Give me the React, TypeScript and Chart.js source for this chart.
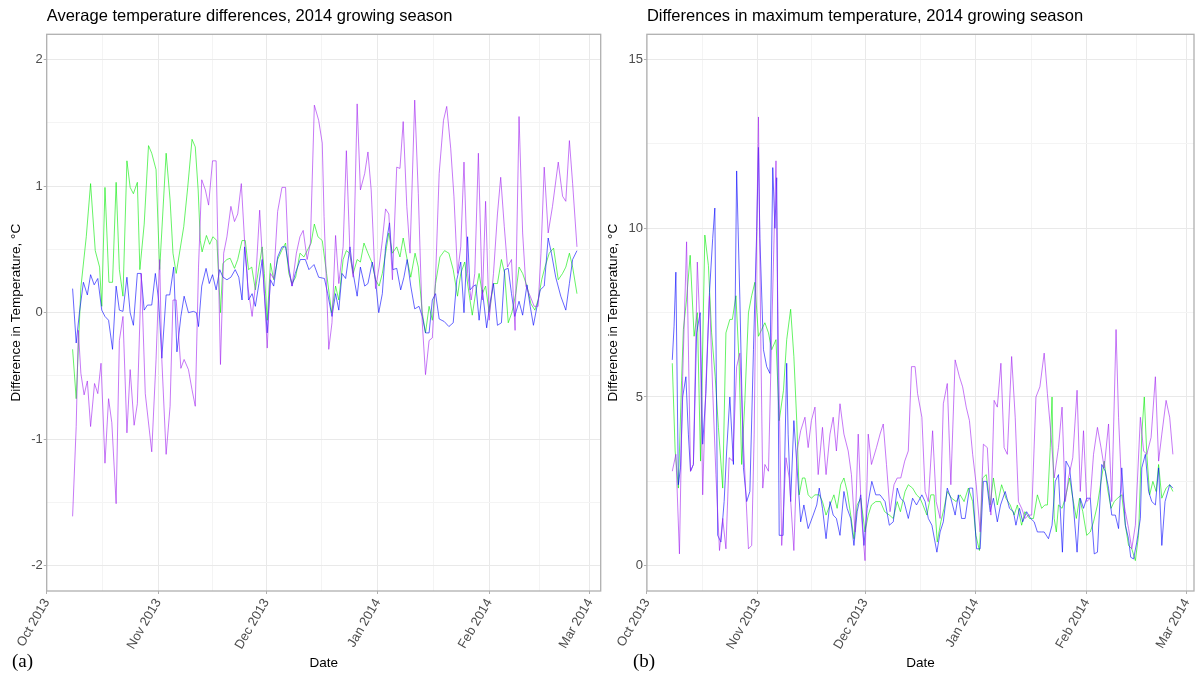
import React, { useEffect, useRef } from "react";
import { Chart, registerables } from "chart.js";

Chart.register(...registerables);

const FONT = "'Liberation Sans', Arial, Helvetica, sans-serif";

// x axis: days since 1 Oct 2013
const monthTickDays = [0, 31, 61, 92, 123, 151];
const monthTickLabels = ["Oct 2013", "Nov 2013", "Dec 2013", "Jan 2014", "Feb 2014", "Mar 2014"];
const minorTickDays = [15.5, 46, 76.5, 107.5, 137];

const avgMajorY = [-2, -1, 0, 1, 2];
const avgMinorY = [-1.5, -0.5, 0.5, 1.5];
const maxMajorY = [0, 5, 10, 15];
const maxMinorY = [2.5, 7.5, 12.5];

// ---------- Panel (a): average temperature differences ----------
const avgGreenDays = [7.2, 8.2, 9.5, 11, 12.2, 13.5, 14.7, 15.3, 16.2, 17.3, 18.3, 19.3, 20.2, 21.2, 22.3, 23.2, 24.1, 25.2, 25.9, 27.1, 28.3, 29.2, 30.4, 31.4, 33.2, 34.3, 35.1, 36, 38.1, 39.2, 40.4, 41.3, 42.1, 42.7, 43.2, 44.4, 45.3, 46.2, 47.3, 48.3, 49, 50.1, 51, 52.2, 53.1, 54.3, 55.2, 56.1, 57, 58, 59, 59.9, 60.5, 61.3, 62.2, 63.1, 64.2, 65.3, 66.4, 67.3, 68.2, 69.2, 70.4, 71.5, 72.4, 73.5, 74.4, 75.4, 76.6, 77.8, 79.2, 80.3, 81.2, 82.4, 83.3, 84.2, 85.2, 86.3, 87.2, 88.2, 89.3, 90.5, 91.4, 92.4, 93.3, 94.2, 95.1, 96.1, 97.3, 98.2, 99.1, 100.2, 101.2, 102.4, 103.3, 104.4, 105.3, 106.3, 107.2, 108.1, 109.3, 110.6, 111.8, 113, 114.2, 115.1, 116.2, 117.1, 118.3, 119.2, 120.2, 121.1, 122, 123, 124.2, 125.3, 126.4, 127.3, 128.3, 129.3, 130.4, 131.3, 132.3, 133.5, 134.6, 135.7, 136.6, 137.6, 138.5, 139.7, 140.9, 142.2, 143.4, 144.3, 145.3, 146.2, 147.4];
const avgGreen = [-0.29, -0.68, 0.2, 0.6, 1.02, 0.49, 0.36, 0.05, 0.99, 0.24, 0.24, 1.03, 0.34, 0.13, 1.2, 0.99, 0.94, 1.03, 0.34, 0.7, 1.32, 1.26, 1.13, 0.34, 1.26, 0.89, 0.47, 0.31, 0.68, 0.99, 1.37, 1.31, 0.97, 0.57, 0.48, 0.61, 0.54, 0.6, 0.57, 0.0, 0.39, 0.42, 0.43, 0.35, 0.42, 0.57, 0.57, 0.34, 0.36, 0.18, 0.36, 0.52, 0.31, -0.06, 0.39, 0.26, 0.42, 0.49, 0.55, 0.31, 0.23, 0.28, 0.47, 0.44, 0.49, 0.55, 0.7, 0.6, 0.57, 0.31, 0.0, 0.21, 0.1, 0.42, 0.49, 0.47, 0.31, 0.42, 0.4, 0.55, 0.47, 0.39, 0.26, 0.21, 0.31, 0.47, 0.63, 0.47, 0.52, 0.44, 0.59, 0.42, 0.28, 0.47, 0.36, 0.0, -0.16, 0.05, -0.06, 0.23, 0.44, 0.49, 0.47, 0.34, 0.13, 0.31, 0.4, 0.21, -0.02, 0.15, 0.31, 0.15, 0.21, 0.0, 0.23, 0.23, 0.42, 0.31, -0.08, 0.0, 0.15, 0.36, 0.31, 0.21, 0.07, 0.02, 0.1, 0.26, 0.36, 0.47, 0.51, 0.26, 0.31, 0.36, 0.47, 0.36, 0.15];

const avgBlueDays = [7.2, 8.2, 9.1, 10.2, 11.3, 12.2, 13.2, 14.2, 15.3, 16.2, 17.2, 18.3, 19.3, 20.2, 21.2, 22.3, 23.2, 24.1, 25.2, 26.2, 27.1, 28, 29.2, 30.2, 31.1, 32, 33.2, 34.2, 35.3, 36.2, 37.3, 38.2, 39.4, 40.8, 41.6, 42.2, 43.1, 44.3, 45.2, 46.1, 47.1, 48.1, 49, 50.1, 51.2, 52.4, 53.4, 54.3, 55, 55.7, 56.1, 57.1, 58, 59, 59.9, 60.5, 61.3, 62.2, 63.1, 64.2, 65.4, 66.4, 67.3, 68.2, 69.1, 70.5, 71.9, 72.9, 74.3, 75.6, 77.2, 78.1, 79.3, 80.3, 81.2, 82.1, 83.1, 84.3, 85.2, 86.3, 87.2, 88.4, 89.3, 90.5, 91.4, 92.3, 93.3, 94.2, 95.3, 96.2, 97.3, 98.4, 99.3, 100.2, 101.2, 102.3, 103.5, 104.4, 105.3, 106.3, 107.2, 108.1, 109.1, 110.5, 111.8, 113, 114, 115.1, 116, 117, 117.7, 118.6, 119.3, 120.2, 121.1, 122.3, 123.2, 124.2, 125.3, 126.4, 127.3, 128.3, 129.2, 130.1, 131.3, 132.3, 133.5, 134.4, 135.3, 136.3, 137.2, 138.3, 139.4, 140.3, 141.5, 142.9, 144.3, 145.3, 146.2, 147.4];
const avgBlue = [0.19, -0.24, 0.0, 0.24, 0.14, 0.3, 0.22, 0.27, 0.02, -0.03, -0.06, -0.29, 0.21, 0.02, 0.01, 0.28, 0.0, -0.1, 0.31, 0.31, 0.02, 0.06, 0.06, 0.31, 0.1, -0.36, 0.14, 0.14, 0.36, -0.31, -0.03, 0.13, 0.0, 0.01, 0.0, -0.11, 0.21, 0.35, 0.23, 0.3, 0.18, 0.34, 0.28, 0.26, 0.28, 0.34, 0.28, 0.1, 0.52, 0.31, 0.1, 0.15, 0.05, 0.23, 0.42, 0.15, -0.16, 0.26, 0.21, 0.44, 0.52, 0.52, 0.36, 0.21, 0.31, 0.42, 0.42, 0.34, 0.38, 0.28, 0.27, 0.15, -0.03, 0.15, 0.02, 0.31, 0.27, 0.52, 0.31, 0.13, 0.36, 0.21, 0.23, 0.4, 0.26, 0.0, 0.15, 0.52, 0.71, 0.34, 0.35, 0.18, 0.28, 0.42, 0.21, 0.03, 0.05, -0.03, -0.16, -0.16, 0.1, 0.15, -0.05, -0.07, -0.11, -0.08, 0.26, 0.4, 0.0, 0.6, 0.18, 0.21, 0.22, -0.06, 0.18, -0.12, 0.07, 0.23, -0.1, -0.08, 0.34, 0.35, 0.15, -0.03, 0.09, -0.02, 0.22, 0.05, -0.1, 0.05, 0.18, 0.21, 0.59, 0.47, 0.28, 0.13, 0.02, 0.23, 0.42, 0.49];

const avgPurpleDays = [7.2, 8.2, 8.8, 9.5, 10.4, 11.3, 12.2, 13.3, 14.2, 15.1, 16.2, 17.2, 18.1, 19.3, 20.2, 21.2, 22.3, 23.2, 24.3, 25.2, 26.3, 27.4, 29.2, 30.4, 31.4, 32, 33.2, 34.3, 35.1, 36, 37.3, 38.2, 39.4, 40.4, 41.3, 42.2, 43.1, 44.1, 45, 46.1, 47.1, 48.3, 49.2, 50.1, 51.2, 52.2, 53.1, 54.1, 55, 55.9, 57.1, 58, 59.2, 60.3, 61.3, 62.2, 63.1, 64.2, 65.4, 66.4, 67.3, 68.2, 69.4, 70.4, 71.3, 72.4, 73.3, 74.4, 75.6, 76.6, 77.1, 78.4, 79.3, 80.3, 81.2, 82.4, 83.3, 84.3, 85.2, 86.3, 87.2, 88.4, 89.3, 90.2, 91.4, 92.4, 93.3, 94.2, 95.1, 96.1, 97.3, 98.2, 99.1, 100.1, 101, 102.3, 103.3, 104.4, 105.3, 106.3, 107.2, 108.1, 109.1, 110.3, 111.2, 112.3, 113.2, 114.2, 115.1, 116, 117, 118, 119, 120, 121.1, 122, 123, 124.2, 125.3, 126.2, 127.2, 128.1, 129.2, 130.2, 131.3, 132.3, 133.2, 134.4, 135.5, 136.6, 137.4, 138.3, 139.4, 140.6, 142.2, 143.4, 144.3, 145.3, 146.2, 147.4];
const avgPurple = [-1.61, -0.9, -0.14, -0.48, -0.65, -0.54, -0.9, -0.56, -0.64, -0.4, -1.19, -0.68, -0.87, -1.51, -0.22, -0.03, -0.95, -0.45, -0.89, -0.72, 0.31, -0.64, -1.1, -0.37, 0.42, -0.37, -1.12, -0.74, 0.1, 0.1, -0.44, -0.37, -0.45, -0.61, -0.74, 0.36, 1.05, 0.97, 0.85, 1.2, 1.2, -0.41, 0.47, 0.6, 0.84, 0.72, 0.78, 1.02, 0.57, 0.21, -0.03, 0.21, 0.81, 0.26, -0.28, 0.31, 0.27, 0.8, 0.99, 0.99, 0.34, 0.21, 0.47, 0.6, 0.65, 0.42, 0.55, 1.64, 1.52, 1.34, 0.76, -0.29, -0.08, 0.61, 0.23, 0.52, 1.28, 0.47, 0.28, 1.65, 0.97, 1.1, 1.27, 0.97, 0.19, 0.36, 0.57, 0.82, 0.78, 0.26, 1.15, 1.14, 1.51, 0.84, 0.47, 1.68, 0.94, -0.08, -0.49, -0.22, -0.2, 0.28, 1.1, 1.52, 1.63, 1.3, 0.92, 0.31, 0.52, 1.19, 0.31, 0.1, 0.31, 1.26, 0.1, 0.88, -0.06, 0.31, 0.78, 1.07, 0.68, 0.36, 0.42, -0.14, 1.55, 0.63, 0.21, 0.13, 0.05, 0.05, 0.47, 1.15, 0.63, 0.84, 1.19, 0.92, 0.88, 1.36, 1.02, 0.52];

// ---------- Panel (b): differences in maximum temperature ----------
const maxGreenDays = [7.1, 7.9, 8.8, 9.7, 10.2, 11.1, 12.1, 13.2, 14.1, 15, 16.2, 17.2, 18.1, 19.1, 20, 21.2, 22.1, 23.2, 23.9, 24.9, 25.8, 26.5, 27.4, 28.4, 29.3, 30.2, 31.2, 32.1, 33, 34, 34.9, 36.1, 37, 38.2, 39.1, 40.2, 41.1, 41.9, 42.6, 43.5, 44.2, 45.1, 46, 47, 48.2, 49.1, 50.1, 51.2, 52.3, 53.2, 54.2, 55.1, 56, 57, 57.9, 58.8, 59.8, 61, 61.9, 62.8, 64, 65.3, 66.5, 67.8, 68.9, 70, 70.9, 72.2, 73.1, 74.3, 75.4, 76.4, 77.2, 78.3, 79.4, 80.3, 81.2, 82.2, 83.1, 84, 85.2, 86.5, 87.6, 88.7, 89.9, 91.1, 92, 93, 93.9, 94.9, 96, 96.9, 98, 99.2, 100.4, 101.6, 102.7, 103.6, 104.8, 105.7, 107, 108.1, 109.2, 110.4, 111.3, 112, 112.8, 113.3, 113.9, 114.5, 115.1, 116.1, 117, 118.2, 119.1, 120.1, 121, 121.9, 123, 124, 124.9, 126, 127, 127.9, 128.8, 129.8, 130.7, 131.6, 132.8, 133.8, 134.7, 135.6, 136.6, 137.5, 138.4, 139.1, 139.8, 140.6, 141.5, 142.4, 143.1, 144, 145.2, 146.2, 147.1];
const maxGreen = [6.0, 3.4, 2.3, 5.5, 7.0, 7.9, 9.2, 6.8, 7.5, 3.1, 9.8, 8.9, 6.9, 5.6, 4.1, 2.3, 6.9, 7.3, 7.3, 8.0, 6.0, 3.0, 4.9, 7.5, 8.0, 8.4, 6.8, 7.0, 7.2, 6.9, 6.4, 6.7, 4.3, 5.2, 6.7, 7.6, 6.2, 4.3, 2.1, 2.6, 2.6, 2.1, 2.0, 2.1, 2.1, 1.9, 1.5, 1.8, 2.1, 1.7, 2.4, 2.6, 2.2, 1.5, 0.8, 1.8, 2.0, 1.0, 1.5, 1.8, 1.9, 1.9, 1.6, 1.5, 1.4, 1.9, 1.6, 2.2, 2.4, 2.3, 2.1, 2.0, 1.8, 1.5, 2.1, 2.1, 0.7, 1.3, 1.7, 2.2, 2.0, 1.9, 2.1, 1.9, 2.3, 1.9, 0.9, 0.45, 2.6, 2.7, 1.8, 2.6, 1.8, 2.4, 2.0, 1.8, 1.5, 1.8, 1.2, 1.6, 1.4, 1.4, 2.1, 1.7, 1.8, 1.8, 3.5, 5.0, 1.4, 1.0, 1.8, 1.7, 2.0, 2.6, 2.0, 1.4, 2.0, 1.6, 0.9, 1.0, 1.3, 1.8, 2.5, 3.1, 2.3, 1.7, 1.9, 2.0, 2.1, 1.2, 0.6, 0.5, 0.15, 0.9, 3.9, 5.0, 3.3, 2.1, 2.5, 2.2, 3.0, 2.0, 2.3, 2.4, 2.2];

const maxBlueDays = [7.1, 7.6, 8.1, 8.8, 9.4, 10, 10.9, 11.6, 12.2, 13, 13.9, 14.9, 15.6, 16.5, 17.5, 18.4, 19, 19.8, 20.7, 21.6, 22.3, 23.2, 24.2, 25.1, 26, 27, 27.9, 28.8, 29.8, 30.7, 31.2, 31.6, 32.6, 33.5, 34.4, 35.2, 35.8, 36.3, 37, 38.1, 39.1, 39.5, 40.2, 41.1, 42, 43, 43.9, 45.1, 46.5, 47.5, 48.2, 49.1, 50.1, 51.2, 52.1, 53, 54, 55.1, 56, 57, 57.9, 58.8, 59.8, 60.7, 61.6, 62.9, 64, 65.2, 66.6, 67.8, 68.9, 70, 70.9, 71.9, 73.1, 74.3, 75.4, 76.9, 77.8, 78.7, 79.7, 81.1, 82, 82.9, 84, 85, 86.2, 87.1, 88, 89, 90.2, 91.1, 92.2, 93.2, 94.1, 95, 96, 96.9, 98, 98.9, 100.2, 101.4, 102.5, 103.2, 104.2, 105.1, 106.2, 107.3, 108.3, 109.2, 110.4, 111.1, 112.3, 113.3, 114.2, 115.1, 116.2, 117.2, 118.2, 119.1, 120.3, 121.2, 122.1, 123, 124, 125.1, 126, 127.2, 128.2, 129.1, 130, 131, 131.9, 132.8, 133.8, 134.7, 135.3, 136.1, 137, 138, 138.4, 139.4, 140.3, 141.2, 142.2, 143.1, 144, 144.9, 146.2, 147.1];
const maxBlue = [6.1, 7.1, 8.7, 2.4, 2.9, 5.0, 5.6, 3.9, 2.8, 3.0, 6.9, 7.5, 3.6, 5.1, 8.1, 9.7, 10.6, 0.9, 0.7, 1.9, 3.4, 5.0, 3.0, 11.7, 7.9, 2.9, 1.9, 2.2, 6.4, 9.9, 12.4, 9.7, 6.4, 5.9, 5.7, 11.8, 10.0, 11.5, 0.9, 0.9, 6.0, 3.9, 1.9, 4.3, 2.9, 1.3, 1.8, 1.1, 1.5, 1.8, 2.3, 1.7, 0.8, 1.9, 1.5, 1.4, 0.9, 2.2, 1.7, 1.4, 0.6, 1.6, 2.1, 0.6, 1.7, 2.5, 2.1, 2.1, 1.9, 1.2, 1.3, 2.3, 2.0, 1.9, 1.4, 2.0, 1.8, 2.1, 1.9, 1.4, 1.2, 0.4, 1.0, 1.3, 2.3, 2.0, 1.5, 2.1, 1.4, 1.4, 2.3, 2.3, 0.5, 0.5, 2.5, 2.5, 1.6, 2.0, 1.3, 1.8, 2.2, 1.7, 1.6, 1.2, 1.7, 1.3, 1.6, 1.4, 1.3, 1.0, 1.0, 1.0, 0.8, 1.2, 2.5, 2.7, 0.4, 3.1, 2.9, 2.0, 0.4, 2.0, 1.7, 2.0, 2.0, 0.35, 0.4, 3.0, 2.8, 2.3, 1.5, 1.5, 1.1, 2.9, 1.2, 0.8, 0.25, 0.2, 0.7, 1.4, 2.9, 3.3, 2.2, 1.9, 1.8, 2.9, 0.6, 1.9, 2.4, 2.3];

const maxPurpleDays = [7.1, 8.1, 9.1, 10, 11.1, 12.2, 13, 14.1, 14.9, 15.6, 16.5, 17.5, 18.4, 19.3, 20.3, 21.2, 22.1, 23, 24, 25.1, 26, 27.1, 28.4, 29.3, 30, 30.5, 31.2, 31.8, 32.4, 33, 34, 34.9, 36.1, 36.7, 37.7, 38.9, 39.8, 41.1, 42, 43, 44.2, 45.1, 46, 47, 47.9, 49.1, 50.1, 51.2, 52.1, 53, 54, 55.1, 56.3, 57.2, 58.2, 59.1, 60, 61, 61.9, 62.8, 64.2, 65.2, 66.1, 67, 68, 69.1, 70, 71, 72.1, 73.1, 74, 75, 75.7, 76.9, 77.8, 78.7, 79.9, 80.9, 82, 82.9, 84, 85, 86.2, 87.4, 88.3, 89.3, 90.2, 91.1, 92.1, 93.2, 94.1, 95.2, 96.2, 97.1, 98, 99, 99.9, 100.8, 102, 103, 103.9, 104.8, 105.8, 106.7, 107.6, 108.8, 109.9, 111.1, 112, 113, 113.9, 115.1, 116.1, 117, 117.9, 119.1, 120.3, 121.2, 122.1, 123, 124, 124.9, 126, 127, 127.9, 129.1, 130, 131.2, 131.9, 132.8, 133.8, 134.7, 135.6, 136.6, 138, 138.9, 139.8, 141, 142.2, 143.1, 144, 145.2, 146.2, 147.1];
const maxPurple = [2.8, 3.3, 0.35, 5.6, 9.6, 2.8, 3.0, 9.0, 6.9, 2.1, 5.4, 8.0, 5.2, 2.7, 0.45, 1.4, 0.5, 3.2, 3.1, 5.9, 6.3, 3.4, 0.5, 0.6, 3.9, 8.4, 13.3, 7.1, 2.3, 3.0, 2.8, 6.9, 12.0, 6.9, 0.6, 3.2, 2.6, 0.45, 3.4, 4.0, 4.4, 3.5, 4.3, 4.7, 2.7, 4.1, 2.7, 3.9, 4.4, 3.4, 4.8, 3.9, 3.4, 2.7, 1.0, 3.9, 1.5, 0.15, 3.9, 3.0, 3.5, 3.9, 4.2, 3.0, 1.6, 2.4, 2.6, 2.6, 3.1, 3.4, 5.9, 5.9, 5.1, 4.4, 2.2, 1.9, 4.0, 1.9, 1.4, 4.8, 5.4, 2.4, 6.1, 5.6, 5.3, 4.7, 4.3, 3.3, 2.4, 1.0, 3.6, 3.5, 1.5, 4.9, 4.7, 6.0, 3.5, 3.3, 6.2, 4.4, 1.9, 1.7, 1.4, 1.5, 1.5, 5.0, 5.3, 6.3, 5.1, 3.9, 2.6, 3.5, 4.7, 1.9, 2.6, 3.2, 5.2, 2.2, 4.0, 1.9, 2.0, 3.3, 4.1, 3.5, 2.9, 4.2, 1.9, 7.0, 4.4, 2.2, 1.6, 1.1, 0.5, 1.2, 4.4, 3.4, 3.3, 3.8, 5.6, 3.1, 3.9, 4.9, 4.4, 3.3];

const GREEN = "rgba(0, 235, 0, 0.6)";
const BLUE = "rgba(0, 0, 255, 0.6)";
const PURPLE = "rgba(160, 32, 240, 0.6)";

function pts(days: number[], vals: number[]) {
  return days.map((d, i) => ({ x: d, y: vals[i] }));
}

const borderPlugin = {
  id: "panelBorder",
  afterDatasetsDraw(chart: any) {
    const { ctx, chartArea: a } = chart;
    ctx.save();
    ctx.strokeStyle = "#b0b0b0";
    ctx.lineWidth = 1.3;
    ctx.strokeRect(a.left, a.top, a.right - a.left, a.bottom - a.top);
    ctx.restore();
  },
};

type PanelSpec = {
  title: string;
  xMax: number;
  yMin: number;
  yMax: number;
  yMajor: number[];
  yMinor: number[];
  yAxisWidth: number;
  yTitlePad: number;
  padRight: number;
  series: { days: number[]; vals: number[]; color: string }[];
};

function makeConfig(p: PanelSpec): any {
  const xTicks = [...monthTickDays, ...minorTickDays].sort((a, b) => a - b);
  const yTicks = [...p.yMajor, ...p.yMinor].sort((a, b) => a - b);
  const isMajorX = (v: any) => monthTickDays.indexOf(v) >= 0;
  const isMajorY = (v: any) => p.yMajor.indexOf(v) >= 0;
  return {
    type: "line",
    data: {
      datasets: p.series.map((s) => ({
        data: pts(s.days, s.vals),
        borderColor: s.color,
        borderWidth: 1,
        pointRadius: 0,
        tension: 0,
        fill: false,
      })),
    },
    options: {
      responsive: false,
      animation: false,
      layout: { padding: { left: 0, top: 0, right: p.padRight, bottom: 0 } },
      plugins: {
        legend: { display: false },
        tooltip: { enabled: false },
        title: {
          display: true,
          text: p.title,
          align: "start",
          fullSize: false,
          color: "#000",
          font: { family: FONT, size: 16.5, weight: "normal", lineHeight: 1.2 },
          padding: { top: 7, bottom: 7.5 },
        },
      },
      scales: {
        x: {
          type: "linear",
          min: 0,
          max: p.xMax,
          bounds: "data",
          afterBuildTicks: (s: any) => {
            s.ticks = xTicks.map((v) => ({ value: v }));
          },
          afterFit: (s: any) => {
            s.height = 87;
            s.paddingLeft = 0;
            s.paddingRight = 0;
          },
          ticks: {
            autoSkip: false,
            minRotation: 60,
            maxRotation: 60,
            padding: 2,
            color: "#4d4d4d",
            font: { family: FONT, size: 13 },
            callback: (v: any) => {
              const i = monthTickDays.indexOf(v);
              return i >= 0 ? monthTickLabels[i] : "";
            },
          },
          grid: {
            color: (c: any) => (c.tick && isMajorX(c.tick.value) ? "#e9e9e9" : "#f4f4f4"),
            tickColor: (c: any) => (c.tick && isMajorX(c.tick.value) ? "#b0b0b0" : "rgba(0,0,0,0)"),
            tickLength: 3,
            lineWidth: 1,
          },
          border: { display: false },
          title: {
            display: true,
            text: "Date",
            color: "#000",
            font: { family: FONT, size: 13.5, lineHeight: 1.2 },
            padding: { top: 0, bottom: 7 },
          },
        },
        y: {
          type: "linear",
          min: p.yMin,
          max: p.yMax,
          bounds: "data",
          afterBuildTicks: (s: any) => {
            s.ticks = yTicks.map((v) => ({ value: v }));
          },
          afterFit: (s: any) => {
            s.width = p.yAxisWidth;
            s.paddingTop = 0;
            s.paddingBottom = 0;
          },
          ticks: {
            padding: 1,
            color: "#4d4d4d",
            font: { family: FONT, size: 13 },
            callback: (v: any) => (isMajorY(v) ? String(v) : ""),
          },
          grid: {
            color: (c: any) => (c.tick && isMajorY(c.tick.value) ? "#e9e9e9" : "#f4f4f4"),
            tickColor: (c: any) => (c.tick && isMajorY(c.tick.value) ? "#b0b0b0" : "rgba(0,0,0,0)"),
            tickLength: 3,
            lineWidth: 1,
          },
          border: { display: false },
          title: {
            display: true,
            text: "Difference in Temperature, °C",
            color: "#000",
            font: { family: FONT, size: 13.5, lineHeight: 1.2 },
            padding: { top: p.yTitlePad, bottom: 0 },
          },
        },
      },
    },
    plugins: [borderPlugin],
  };
}

const panelA: PanelSpec = {
  title: "Average temperature differences, 2014 growing season",
  xMax: 154,
  yMin: -2.2,
  yMax: 2.2,
  yMajor: avgMajorY,
  yMinor: avgMinorY,
  yAxisWidth: 46.7,
  yTitlePad: 8,
  padRight: 19.3,
  series: [
    { days: avgPurpleDays, vals: avgPurple, color: PURPLE },
    { days: avgBlueDays, vals: avgBlue, color: BLUE },
    { days: avgGreenDays, vals: avgGreen, color: GREEN },
  ],
};

const panelB: PanelSpec = {
  title: "Differences in maximum temperature, 2014 growing season",
  xMax: 153,
  yMin: -0.75,
  yMax: 15.75,
  yMajor: maxMajorY,
  yMinor: maxMinorY,
  yAxisWidth: 45.9,
  yTitlePad: 4,
  padRight: 7,
  series: [
    { days: maxPurpleDays, vals: maxPurple, color: PURPLE },
    { days: maxBlueDays, vals: maxBlue, color: BLUE },
    { days: maxGreenDays, vals: maxGreen, color: GREEN },
  ],
};

function Panel({ spec, left, width }: { spec: PanelSpec; left: number; width: number }) {
  const ref = useRef<HTMLCanvasElement | null>(null);
  useEffect(() => {
    if (!ref.current) return;
    const chart = new Chart(ref.current, makeConfig(spec));
    return () => chart.destroy();
  }, [spec]);
  return (
    <canvas
      ref={ref}
      width={width}
      height={678}
      style={{ position: "absolute", left, top: 0, width, height: 678, display: "block" }}
    />
  );
}

const serifLabel: React.CSSProperties = {
  position: "absolute",
  top: 651,
  fontFamily: "'Liberation Serif', 'DejaVu Serif', serif",
  fontSize: 19,
  lineHeight: "20px",
  color: "#000",
};

export default function App() {
  return (
    <div
      style={{
        position: "absolute",
        left: 0,
        top: 0,
        width: 1201,
        height: 678,
        background: "#fff",
        overflow: "hidden",
      }}
    >
      <Panel spec={panelA} left={0} width={620} />
      <Panel spec={panelB} left={601} width={600} />
      <div style={{ ...serifLabel, left: 12 }}>(a)</div>
      <div style={{ ...serifLabel, left: 633 }}>(b)</div>
    </div>
  );
}
